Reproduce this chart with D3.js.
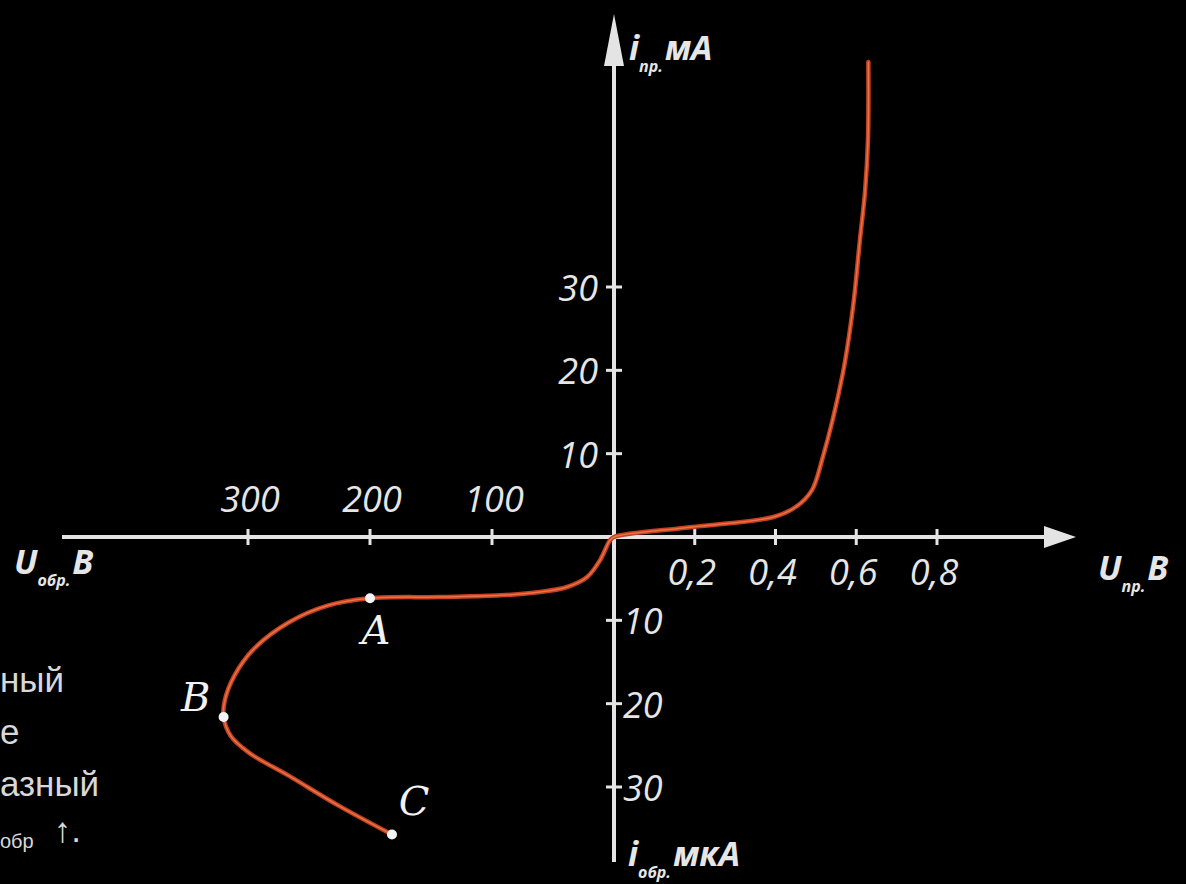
<!DOCTYPE html>
<html>
<head>
<meta charset="utf-8">
<script src="https://cdn.jsdelivr.net/npm/d3@7"></script>
<style>
  html, body { margin: 0; padding: 0; background: #000; }
  svg { display: block; }
  .tick-label { fill: #e6e6e6; font-family: "Open Sans", sans-serif; font-style: italic; font-size: 36px; }
  .axis-name { fill: #e6e6e6; font-family: "Open Sans", sans-serif; font-style: italic; font-weight: 700; }
  .point-name { fill: #f2f2f2; font-family: "DejaVu Serif", serif; font-style: italic; font-size: 40px; }
  .side-text { fill: #d8d8d8; font-family: "Liberation Sans", Arial, sans-serif; font-size: 35px; }
</style>
</head>
<body>
<script>
// reverse branch: U in volts (negative = reverse), i in microamps (negative)
var reverseU = [-182, -225, -266, -299, -314, -320, -319, -311, -295, -266, -234, -200, -143, -93, -60.7, -38.5, -22, -11.5, -3.3, 0];
var reverseI = [-35.7, -32.3, -28.7, -25.9, -23.9, -21.6, -19.6, -16.6, -13.4, -10.2, -8.2, -7.35, -7.2, -7.0, -6.6, -6.0, -4.8, -2.8, -0.4, 0];
// forward branch: U in volts, i in milliamps
var forwardU = [0, 0.195, 0.395, 0.45, 0.49, 0.515, 0.567, 0.592, 0.609, 0.622, 0.629, 0.63];
var forwardI = [0, 1.2, 2.4, 3.6, 5.6, 9.2, 19.7, 27.6, 35.6, 41.6, 47.6, 57];

var xTicksRev = [-300, -200, -100];
var xTicksFwd = [0.2, 0.4, 0.6, 0.8];
var yTicksFwd = [10, 20, 30];
var yTicksRev = [-10, -20, -30];

var marked = [
  { name: "A", u: -200, i: -7.35 },
  { name: "B", u: -320, i: -21.6 },
  { name: "C", u: -182, i: -35.7 }
];

var leftFragments = ["ный", "е", "азный"];

var width = 1186,
    height = 884;

var svg = d3.select("body").append("svg")
    .attr("width", width)
    .attr("height", height);

svg.append("rect").attr("width", width).attr("height", height).attr("fill", "#000");

// piecewise scales: different units on each side of the origin
var x = d3.scaleLinear().domain([-300, 0, 0.8]).range([248, 614, 937]);
var y = d3.scaleLinear().domain([-30, 0, 30]).range([787, 537, 287]);

var x0 = x(0), y0 = y(0);
var axisColor = "#e4e4e4";

// horizontal axis
svg.append("line")
    .attr("x1", 62).attr("y1", y0)
    .attr("x2", 1050).attr("y2", y0)
    .attr("stroke", axisColor).attr("stroke-width", 4);
svg.append("path")
    .attr("d", "M1044," + (y0 - 11) + "L1076," + y0 + "L1044," + (y0 + 11) + "Z")
    .attr("fill", axisColor);

// vertical axis
svg.append("line")
    .attr("x1", x0).attr("y1", 50)
    .attr("x2", x0).attr("y2", 862)
    .attr("stroke", axisColor).attr("stroke-width", 4);
svg.append("path")
    .attr("d", "M" + (x0 - 10) + ",66L" + x0 + ",14L" + (x0 + 10) + ",66Z")
    .attr("fill", axisColor);

// ticks on horizontal axis
svg.selectAll(".xtick")
    .data(xTicksRev.concat(xTicksFwd))
    .enter().append("line")
    .attr("class", "xtick")
    .attr("x1", function (d) { return x(d); })
    .attr("x2", function (d) { return x(d); })
    .attr("y1", y0 - 8).attr("y2", y0 + 8)
    .attr("stroke", axisColor).attr("stroke-width", 3);

svg.selectAll(".xrev-label")
    .data(xTicksRev)
    .enter().append("text")
    .attr("class", "tick-label")
    .attr("x", function (d) { return x(d) + 2; })
    .attr("y", y0 - 25)
    .attr("text-anchor", "middle")
    .text(function (d) { return Math.abs(d); });

svg.selectAll(".xfwd-label")
    .data(xTicksFwd)
    .enter().append("text")
    .attr("class", "tick-label")
    .attr("x", function (d) { return x(d) - 3; })
    .attr("y", y0 + 48)
    .attr("text-anchor", "middle")
    .text(function (d) { return String(d).replace(".", ","); });

// ticks on vertical axis
svg.selectAll(".ytick")
    .data(yTicksFwd.concat(yTicksRev))
    .enter().append("line")
    .attr("class", "ytick")
    .attr("x1", x0 - 8).attr("x2", x0 + 8)
    .attr("y1", function (d) { return y(d); })
    .attr("y2", function (d) { return y(d); })
    .attr("stroke", axisColor).attr("stroke-width", 3);

svg.selectAll(".yfwd-label")
    .data(yTicksFwd)
    .enter().append("text")
    .attr("class", "tick-label")
    .attr("x", x0 - 16)
    .attr("y", function (d) { return y(d) + 14; })
    .attr("text-anchor", "end")
    .text(function (d) { return d; });

svg.selectAll(".yrev-label")
    .data(yTicksRev)
    .enter().append("text")
    .attr("class", "tick-label")
    .attr("x", x0 + 9)
    .attr("y", function (d) { return y(d) + 14; })
    .attr("text-anchor", "start")
    .text(function (d) { return Math.abs(d); });

// axis names
function axisName(px, py, main, sub, unit) {
    var t = svg.append("text").attr("class", "axis-name").attr("x", px).attr("y", py);
    t.append("tspan").attr("font-size", 34).text(main);
    t.append("tspan").attr("font-size", 16).attr("dy", 12).text(sub);
    t.append("tspan").attr("font-size", 34).attr("dy", -12).attr("dx", 2).text(unit);
}
axisName(629, 60, "i", "пр.", "мА");
axisName(14, 574, "U", "обр.", "B");
axisName(1098, 580, "U", "пр.", "B");
axisName(628, 866, "i", "обр.", "мкА");

// the characteristic
var pts = reverseU.map(function (u, k) { return [x(u), y(reverseI[k])]; })
    .concat(forwardU.slice(1).map(function (u, k) { return [x(u), y(forwardI[k + 1])]; }));

var line = d3.line().curve(d3.curveCatmullRom.alpha(0.5));

svg.append("path")
    .attr("d", line(pts))
    .attr("fill", "none")
    .attr("stroke", "#c8401e")
    .attr("stroke-width", 4.5)
    .attr("stroke-linecap", "round");
svg.append("path")
    .attr("d", line(pts))
    .attr("fill", "none")
    .attr("stroke", "#f08a5e")
    .attr("stroke-width", 1.5)
    .attr("stroke-opacity", 0.7);

// marked points
svg.selectAll(".mark")
    .data(marked)
    .enter().append("circle")
    .attr("cx", function (d) { return x(d.u); })
    .attr("cy", function (d) { return y(d.i); })
    .attr("r", 5)
    .attr("fill", "#f4f4f4");

var nameOffset = { A: [6, 46], B: [-28, -6], C: [22, -20] };
svg.selectAll(".point-name")
    .data(marked)
    .enter().append("text")
    .attr("class", "point-name")
    .attr("x", function (d) { return x(d.u) + nameOffset[d.name][0]; })
    .attr("y", function (d) { return y(d.i) + nameOffset[d.name][1]; })
    .attr("text-anchor", "middle")
    .text(function (d) { return d.name; });

// cut-off text from the slide's left edge
svg.selectAll(".side-text")
    .data(leftFragments)
    .enter().append("text")
    .attr("class", "side-text")
    .attr("x", 0)
    .attr("y", function (d, k) { return 692 + k * 52; })
    .text(function (d) { return d; });

var last = svg.append("text").attr("class", "side-text").attr("x", 0).attr("y", 842);
last.append("tspan").attr("font-size", 20).attr("dy", 6).text("обр");
last.append("tspan").attr("dx", 20).attr("dy", -6).text("↑.");
</script>
</body>
</html>
